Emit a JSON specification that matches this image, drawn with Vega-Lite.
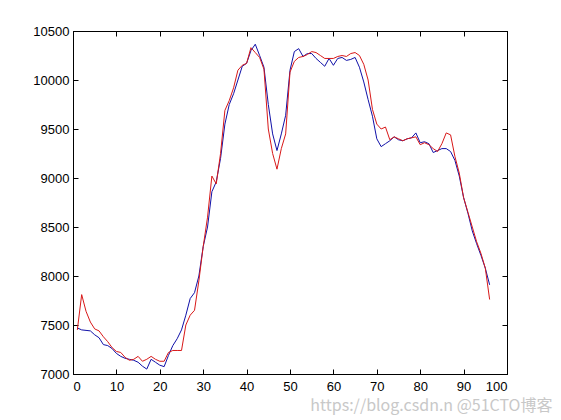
{
  "$schema": "https://vega.github.io/schema/vega-lite/v6.json",
  "width": 434,
  "height": 343,
  "autosize": "none",
  "padding": {"left": 73, "top": 31, "right": 54, "bottom": 46},
  "background": "white",
  "config": {
    "view": {"stroke": "black", "strokeWidth": 1},
    "axis": {
      "grid": false,
      "domainColor": "black",
      "tickColor": "black",
      "tickSize": -5,
      "labelColor": "black",
      "labelFont": "Liberation Sans",
      "labelFontSize": 13,
      "format": "d",
      "title": null
    }
  },
  "title": {
    "text": "https://blog.csdn.n @51CTO博客",
    "orient": "bottom",
    "anchor": "end",
    "font": "Noto Sans CJK SC",
    "fontSize": 16,
    "fontWeight": "normal",
    "color": "#c8c8c8",
    "offset": 5,
    "dx": 45
  },
  "data": {
    "values": [
      {"x":1,"blue":7470,"red":7450},{"x":2,"blue":7450,"red":7810},{"x":3,"blue":7445,"red":7640},{"x":4,"blue":7440,"red":7530},
      {"x":5,"blue":7400,"red":7460},{"x":6,"blue":7370,"red":7440},{"x":7,"blue":7300,"red":7380},{"x":8,"blue":7290,"red":7330},
      {"x":9,"blue":7260,"red":7270},{"x":10,"blue":7210,"red":7230},{"x":11,"blue":7180,"red":7220},{"x":12,"blue":7160,"red":7170},
      {"x":13,"blue":7150,"red":7140},{"x":14,"blue":7140,"red":7150},{"x":15,"blue":7120,"red":7180},{"x":16,"blue":7080,"red":7130},
      {"x":17,"blue":7050,"red":7150},{"x":18,"blue":7150,"red":7180},{"x":19,"blue":7120,"red":7150},{"x":20,"blue":7090,"red":7130},
      {"x":21,"blue":7075,"red":7130},{"x":22,"blue":7190,"red":7220},{"x":23,"blue":7290,"red":7240},{"x":24,"blue":7360,"red":7240},
      {"x":25,"blue":7450,"red":7240},{"x":26,"blue":7600,"red":7500},{"x":27,"blue":7770,"red":7600},{"x":28,"blue":7830,"red":7650},
      {"x":29,"blue":8000,"red":7950},{"x":30,"blue":8300,"red":8300},{"x":31,"blue":8500,"red":8600},{"x":32,"blue":8860,"red":9020},
      {"x":33,"blue":8960,"red":8940},{"x":34,"blue":9200,"red":9250},{"x":35,"blue":9550,"red":9690},{"x":36,"blue":9750,"red":9790},
      {"x":37,"blue":9860,"red":9920},{"x":38,"blue":10000,"red":10100},{"x":39,"blue":10140,"red":10150},{"x":40,"blue":10170,"red":10170},
      {"x":41,"blue":10300,"red":10330},{"x":42,"blue":10365,"red":10280},{"x":43,"blue":10250,"red":10230},{"x":44,"blue":10130,"red":10110},
      {"x":45,"blue":9750,"red":9500},{"x":46,"blue":9450,"red":9250},{"x":47,"blue":9280,"red":9090},{"x":48,"blue":9450,"red":9300},
      {"x":49,"blue":9640,"red":9450},{"x":50,"blue":10100,"red":10080},{"x":51,"blue":10290,"red":10190},{"x":52,"blue":10320,"red":10230},
      {"x":53,"blue":10240,"red":10240},{"x":54,"blue":10270,"red":10260},{"x":55,"blue":10270,"red":10290},{"x":56,"blue":10220,"red":10280},
      {"x":57,"blue":10180,"red":10250},{"x":58,"blue":10140,"red":10220},{"x":59,"blue":10220,"red":10220},{"x":60,"blue":10150,"red":10220},
      {"x":61,"blue":10220,"red":10240},{"x":62,"blue":10230,"red":10250},{"x":63,"blue":10200,"red":10240},{"x":64,"blue":10210,"red":10270},
      {"x":65,"blue":10230,"red":10280},{"x":66,"blue":10130,"red":10250},{"x":67,"blue":9980,"red":10160},{"x":68,"blue":9800,"red":10000},
      {"x":69,"blue":9630,"red":9700},{"x":70,"blue":9400,"red":9550},{"x":71,"blue":9320,"red":9500},{"x":72,"blue":9350,"red":9520},
      {"x":73,"blue":9380,"red":9390},{"x":74,"blue":9420,"red":9420},{"x":75,"blue":9390,"red":9400},{"x":76,"blue":9380,"red":9380},
      {"x":77,"blue":9400,"red":9400},{"x":78,"blue":9410,"red":9410},{"x":79,"blue":9460,"red":9420},{"x":80,"blue":9360,"red":9340},
      {"x":81,"blue":9370,"red":9360},{"x":82,"blue":9350,"red":9340},{"x":83,"blue":9260,"red":9300},{"x":84,"blue":9280,"red":9270},
      {"x":85,"blue":9300,"red":9350},{"x":86,"blue":9300,"red":9460},{"x":87,"blue":9270,"red":9440},{"x":88,"blue":9180,"red":9220},
      {"x":89,"blue":9020,"red":9050},{"x":90,"blue":8800,"red":8800},{"x":91,"blue":8640,"red":8650},{"x":92,"blue":8460,"red":8500},
      {"x":93,"blue":8330,"red":8350},{"x":94,"blue":8210,"red":8230},{"x":95,"blue":8080,"red":8080},{"x":96,"blue":7910,"red":7760}
    ]
  },
  "layer": [
    {
      "mark": {"type": "line", "color": "#1010a8", "strokeWidth": 1},
      "encoding": {
        "x": {"field": "x", "type": "quantitative", "scale": {"domain": [0, 100], "nice": false, "zero": false},
              "axis": {"orient": "bottom", "values": [0,10,20,30,40,50,60,70,80,90,100], "labelPadding": 11}},
        "y": {"field": "blue", "type": "quantitative", "scale": {"domain": [7000, 10500], "nice": false, "zero": false},
              "axis": {"orient": "left", "values": [7000,7500,8000,8500,9000,9500,10000,10500], "labelPadding": 9}}
      }
    },
    {
      "mark": {"type": "line", "color": "#d81818", "strokeWidth": 1},
      "encoding": {
        "x": {"field": "x", "type": "quantitative", "scale": {"domain": [0, 100], "nice": false, "zero": false},
              "axis": {"orient": "top", "values": [0,10,20,30,40,50,60,70,80,90,100], "labels": false}},
        "y": {"field": "red", "type": "quantitative", "scale": {"domain": [7000, 10500], "nice": false, "zero": false},
              "axis": {"orient": "right", "values": [7000,7500,8000,8500,9000,9500,10000,10500], "labels": false}}
      }
    }
  ],
  "resolve": {"axis": {"x": "independent", "y": "independent"}}
}
